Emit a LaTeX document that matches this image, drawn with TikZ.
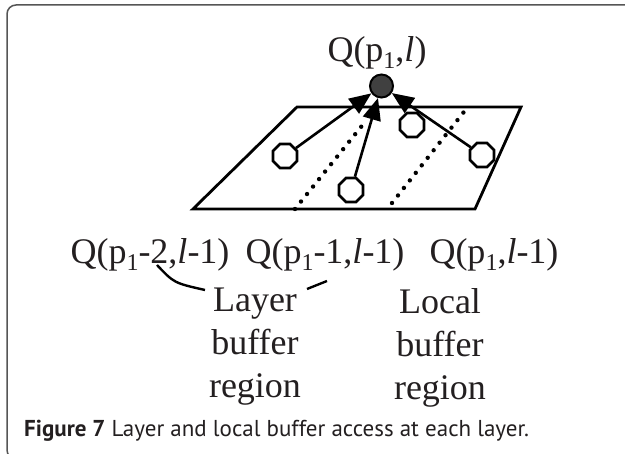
\documentclass[tikz,border=0pt]{standalone}
\usepackage{fontspec}
\setmainfont{Liberation Serif}
\newfontfamily\capfont{PT Sans}
\usetikzlibrary{arrows.meta,shapes.geometric}
\definecolor{dotgray}{HTML}{404040}
\definecolor{framegray}{HTML}{555555}
\definecolor{ink}{HTML}{231F20}
\newcommand{\idx}[1]{\raisebox{-7pt}{\fontsize{24}{24}\selectfont #1}}

\tikzset{
  lbl/.style={font=\fontsize{36}{43}\selectfont, text=ink, inner sep=0pt, anchor=base},
  cell/.style={draw, line width=2.6pt, regular polygon, regular polygon sides=8, minimum size=26pt, inner sep=0pt, fill=white},
  feed/.style={line width=2.6pt, -{Triangle[length=22pt,width=18pt]}},
  dotline/.style={line width=4.4pt, line cap=round, dash pattern=on 0pt off 9.6pt}
}

\begin{document}
\begin{tikzpicture}[x=1pt,y=-1pt]
        \useasboundingbox (0,0) rectangle (625,454);
        \draw[line width=1.5pt, color=framegray, rounded corners=9pt] (700,5) -- (7,5) -- (7,459) -- (700,459);

        % the layer plane
        \draw[line width=2.8pt, line join=miter] (297,107) -- (521,107) -- (475,209) -- (193,209) -- cycle;
        \coordinate (da) at (295,209); \coordinate (db) at (365,122);
        \coordinate (dc) at (392,203); \coordinate (dd) at (467,108);
        \draw[dotline] (da) -- (db); \draw[dotline] (dc) -- (dd);

        \node[circle, draw, line width=2pt, fill=dotgray, minimum size=23pt, inner sep=0pt] (q) at (381.5,86) {};
        \node[lbl] (qtop) at (377,62) {Q(p\idx{1},\textit{l})};

        \node[cell] (c1) at (285,156) {}; \node[cell] (c2) at (351,190) {};
        \node[cell] (c3) at (412,125) {}; \node[cell] (c4) at (482,155) {};
        \draw[feed] (c1) -- (q); \draw[feed] (c2) -- (q); \draw[feed] (c4) -- (q);

        % labels below the plane
        \node[lbl] (qa) at (150,264) {Q(p\idx{1}-2,\textit{l}-1)};
        \node[lbl] (qb) at (325,264) {Q(p\idx{1}-1,\textit{l}-1)};
        \node[lbl] (qc) at (494,264) {Q(p\idx{1},\textit{l}-1)};
        \node[lbl, anchor=north, align=center] (layer) at (255,288) {Layer\\buffer\\region};
        \node[lbl, anchor=north, align=center] (local) at (440,288) {Local\\buffer\\region};

        \coordinate (ba) at (157,265); \coordinate (bb) at (205,290);
        \coordinate (bc) at (307,289); \coordinate (bd) at (327,281);
        \draw[line width=2.4pt] (ba) .. controls (174,283) .. (bb); \draw[line width=2.4pt] (bc) -- (bd);

        \node[anchor=base west, inner sep=0pt, text=ink, font=\capfont\fontsize{23}{23}\selectfont] (cap) at (24,437) {\textbf{Figure 7} Layer and local buffer access at each layer.};
    \end{tikzpicture}
\end{document}
